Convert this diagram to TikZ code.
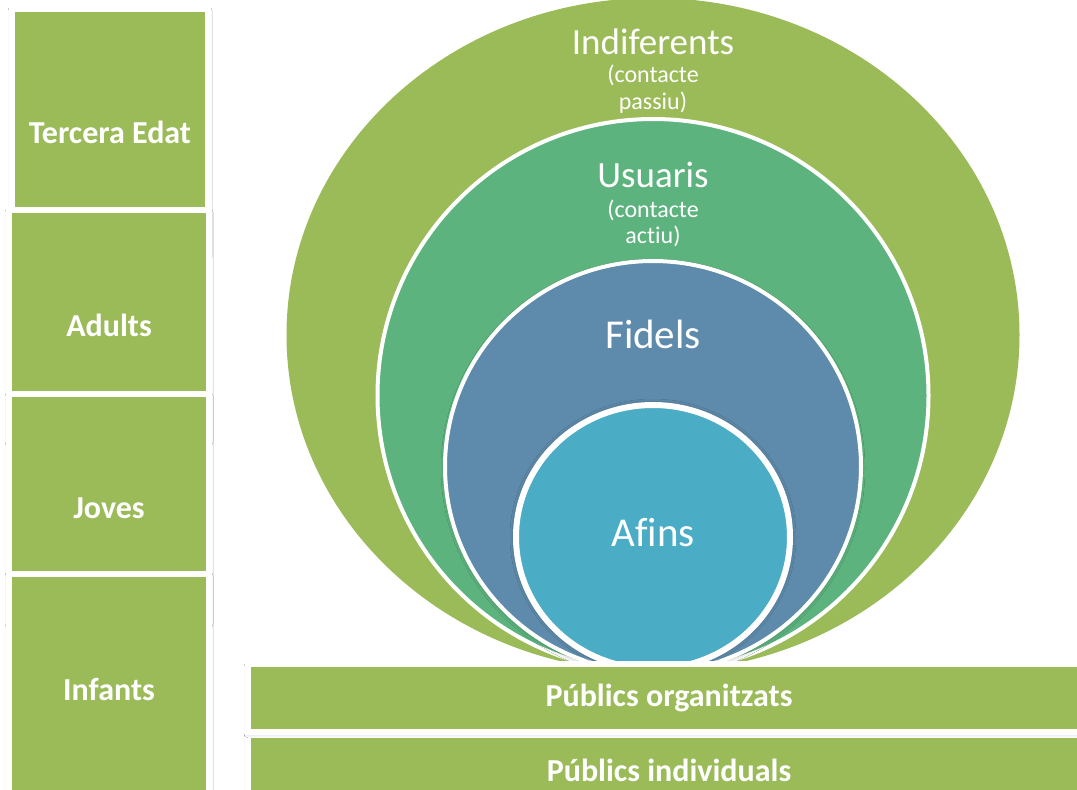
\documentclass[tikz,border=0pt]{standalone}
\usepackage{fontspec}
\setmainfont[Ligatures=NoCommon]{Carlito}
\usetikzlibrary{shapes.geometric,shadows.blur}
\definecolor{olivegr}{HTML}{9BBB59}
\definecolor{usugr}{HTML}{5DB37E}
\definecolor{fidbl}{HTML}{5E8BAB}
\definecolor{afibl}{HTML}{4BACC6}
\begin{document}
\begin{tikzpicture}[x=1pt,y=-1pt,
  softshadow/.style={blur shadow={shadow xshift=0pt,shadow yshift=-2pt,shadow blur radius=4pt,shadow opacity=30}},
  agebox/.style={rectangle, fill=olivegr, draw=white, line width=6pt, minimum width=200pt,
    text=white, font=\bfseries\fontsize{32}{38}\selectfont, inner sep=0pt, softshadow},
  barbox/.style={rectangle, fill=olivegr, draw=white, line width=6pt, minimum width=842pt,
    text=white, font=\bfseries\fontsize{32}{38}\selectfont, inner sep=0pt, softshadow},
  ring/.style={ellipse, inner sep=0pt, draw=white},
  biglbl/.style={text=white, inner sep=0pt, font=\fontsize{37}{40}\selectfont},
  hugelbl/.style={text=white, inner sep=0pt, font=\fontsize{41}{44}\selectfont},
  sublbl/.style={text=white, inner sep=0pt, align=center, font=\fontsize{24}{26.5}\selectfont}]
\useasboundingbox (0,0) rectangle (1077,790);
\fill[white] (0,0) rectangle (1077,790);
% left age boxes
\node[agebox, minimum width=196pt, minimum height=247pt] (tercera) at (110,132) {Tercera Edat};
\node[agebox, minimum height=230pt] (adults) at (109,325) {Adults};
\node[agebox, minimum height=228pt] (joves) at (109,508) {Joves};
\node[agebox, minimum height=231pt] (infants) at (109,689) {Infants};
% nested rings
\node[ring, fill=olivegr, draw=none, minimum width=733pt, minimum height=674pt] (indif) at (653,335) {};
\node[ring, fill=usugr, line width=4pt, minimum width=551pt, minimum height=553pt] (usuaris) at (653,395.5) {};
\node[ring, fill=fidbl, line width=4pt, minimum width=416pt, minimum height=411pt, softshadow] (fidels) at (653,466.5) {};
\node[ring, fill=afibl, line width=6pt, minimum width=274pt, minimum height=264pt,
  blur shadow={shadow xshift=0pt,shadow yshift=0pt,shadow blur radius=6pt,shadow opacity=45}] (afins) at (653,537) {};
% ring labels
\node[biglbl] (tindif) at (653,42) {Indiferents};
\node[sublbl] (tindifsub) at (653,89) {(contacte\\passiu)};
\node[biglbl] (tusu) at (653,175) {Usuaris};
\node[sublbl] (tususub) at (653,223.5) {(contacte\\actiu)};
\node[hugelbl] (tfid) at (653,334) {Fidels};
\node[hugelbl] (tafi) at (653,533) {Afins};
% bottom bars
\node[barbox, minimum height=70pt] (indiv) at (669,770) {Públics individuals};
\node[barbox, minimum height=67.5pt] (organ) at (669,698) {Públics organitzats};
\end{tikzpicture}
\end{document}
